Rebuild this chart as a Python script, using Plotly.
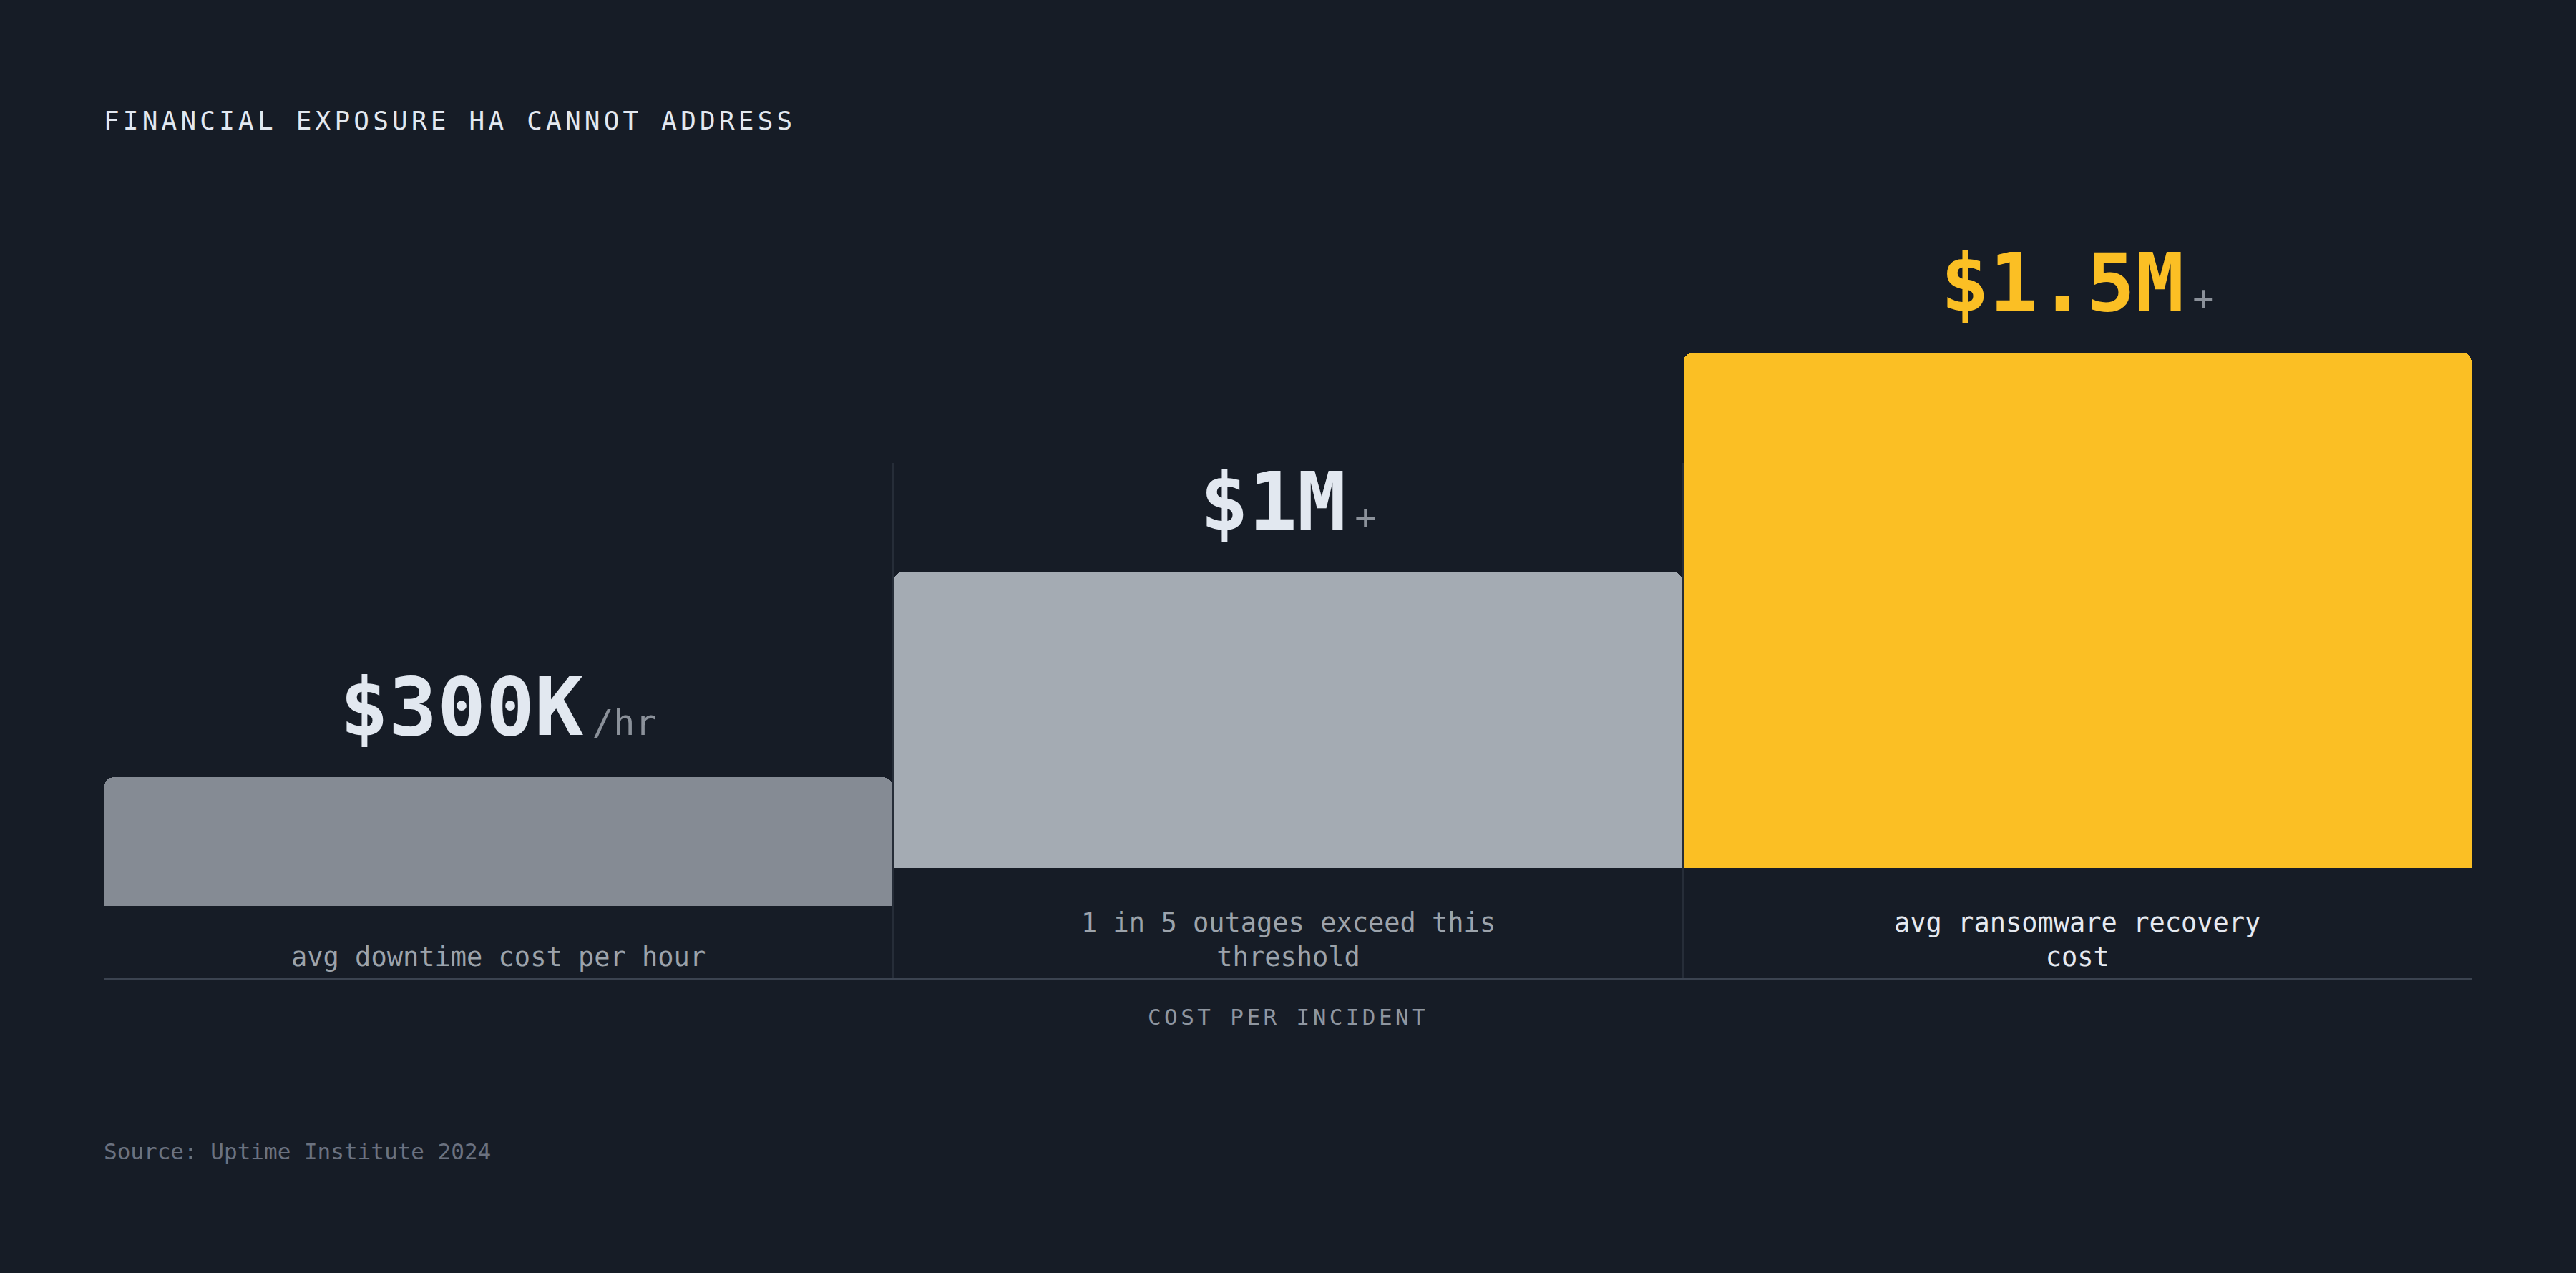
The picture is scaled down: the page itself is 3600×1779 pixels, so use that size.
import plotly.graph_objects as go

# ---- data ----
categories = [
    "avg downtime cost per hour",
    "1 in 5 outages exceed this<br>threshold",
    "avg ransomware recovery<br>cost",
]
value_labels = ["$300K", "$1M", "$1.5M"]
value_suffixes = ["/hr", "+", "+"]
# bar extents in relative units (tallest bar = 100)
bar_heights = [25, 57.5, 100]
bar_bases = [14, 21.4, 21.4]

title_text = "FINANCIAL EXPOSURE HA CANNOT ADDRESS"
axis_title = "COST PER INCIDENT"
source_text = "Source: Uptime Institute 2024"

# ---- style ----
W, H = 3600, 1779
BG = "#161c26"
FONT = "DejaVu Sans Mono"
bar_colors = ["#858b94", "#a4abb3", "#fbbf24"]
value_colors = ["#e2e8f0", "#e2e8f0", "#fbbf24"]
label_colors = ["#9ca3ab", "#9ca3ab", "#e5e9f0"]
SUFFIX_COLOR = "#8b919a"

LEFT_PX, RIGHT_PX = 145, 3455
AXIS_PX = 1367          # y pixel of the baseline line
PX_PER_UNIT = 7.2


def spaced(text, spacing):
    return f'<span style="letter-spacing:{spacing}px">{text}</span>'


fig = go.Figure()

# transparent offset so the bars float above the labels, then the bars
fig.add_trace(go.Bar(
    x=categories, y=bar_bases, width=0.998,
    marker={"color": "rgba(0,0,0,0)", "line": {"width": 0}},
    hoverinfo="skip",
))
fig.add_trace(go.Bar(
    x=categories, y=bar_heights, width=0.998,
    marker={"color": bar_colors, "line": {"width": 0}},
    hoverinfo="skip",
))

# column dividers
for i in range(1, len(categories)):
    fig.add_shape(
        type="line", xref="x", yref="y",
        x0=i - 0.5, x1=i - 0.5, y0=0, y1=max(bar_heights),
        line={"color": "#262d38", "width": 3},
        layer="below",
    )

annotations = []
for i, cat in enumerate(categories):
    top = bar_bases[i] + bar_heights[i]
    text = (
        f"<b>{value_labels[i]}</b>"
        f'<span style="font-size:20px">\u00a0</span>'
        f'<span style="font-size:50px;color:{SUFFIX_COLOR}">{value_suffixes[i]}</span>'
    )
    annotations.append(dict(
        x=cat, y=top, xref="x", yref="y",
        text=text, showarrow=False,
        xanchor="center", yanchor="middle", yshift=98,
        font={"family": FONT, "size": 113, "color": value_colors[i]},
    ))
    annotations.append(dict(
        x=cat, y=0, xref="x", yref="y",
        text=cat, showarrow=False,
        xanchor="center", yanchor="bottom", yshift=6,
        font={"family": FONT, "size": 37, "color": label_colors[i]},
    ))

annotations.append(dict(
    x=(LEFT_PX + RIGHT_PX) / 2 / W, y=0, xref="paper", yref="y",
    text=spaced(axis_title, 4.4), showarrow=False,
    xanchor="center", yanchor="top", yshift=-34,
    font={"family": FONT, "size": 31, "color": "#8f96a0"},
))
annotations.append(dict(
    x=(LEFT_PX - 2) / W, y=1 - 168 / H, xref="paper", yref="paper",
    text=spaced(title_text, 5.2), showarrow=False,
    xanchor="left", yanchor="middle",
    font={"family": FONT, "size": 36, "color": "#e2e8f0"},
))
annotations.append(dict(
    x=(LEFT_PX - 2) / W, y=1 - 1609 / H, xref="paper", yref="paper",
    text=source_text, showarrow=False,
    xanchor="left", yanchor="middle",
    font={"family": FONT, "size": 31, "color": "#6b7280"},
))

fig.update_layout(
    width=W, height=H,
    paper_bgcolor=BG, plot_bgcolor=BG,
    margin={"l": 0, "r": 0, "t": 0, "b": 0},
    showlegend=False,
    hovermode=False,
    barmode="stack",
    bargap=0.002,
    barcornerradius=13,
    annotations=annotations,
)
fig.update_xaxes(
    domain=[LEFT_PX / W, RIGHT_PX / W],
    range=[-0.5, len(categories) - 0.5],
    showline=True, linecolor="#3b4350", linewidth=3,
    showgrid=False, zeroline=False, showticklabels=False, ticks="",
    fixedrange=True,
)
fig.update_yaxes(
    domain=[(H - AXIS_PX) / H, 1],
    range=[0, AXIS_PX / PX_PER_UNIT],
    visible=False, showgrid=False, zeroline=False,
    fixedrange=True,
)

fig.write_html(
    "out.html",
    config={"displayModeBar": False},
    post_script="document.body.style.margin='0';document.body.style.background='%s';" % BG,
)
